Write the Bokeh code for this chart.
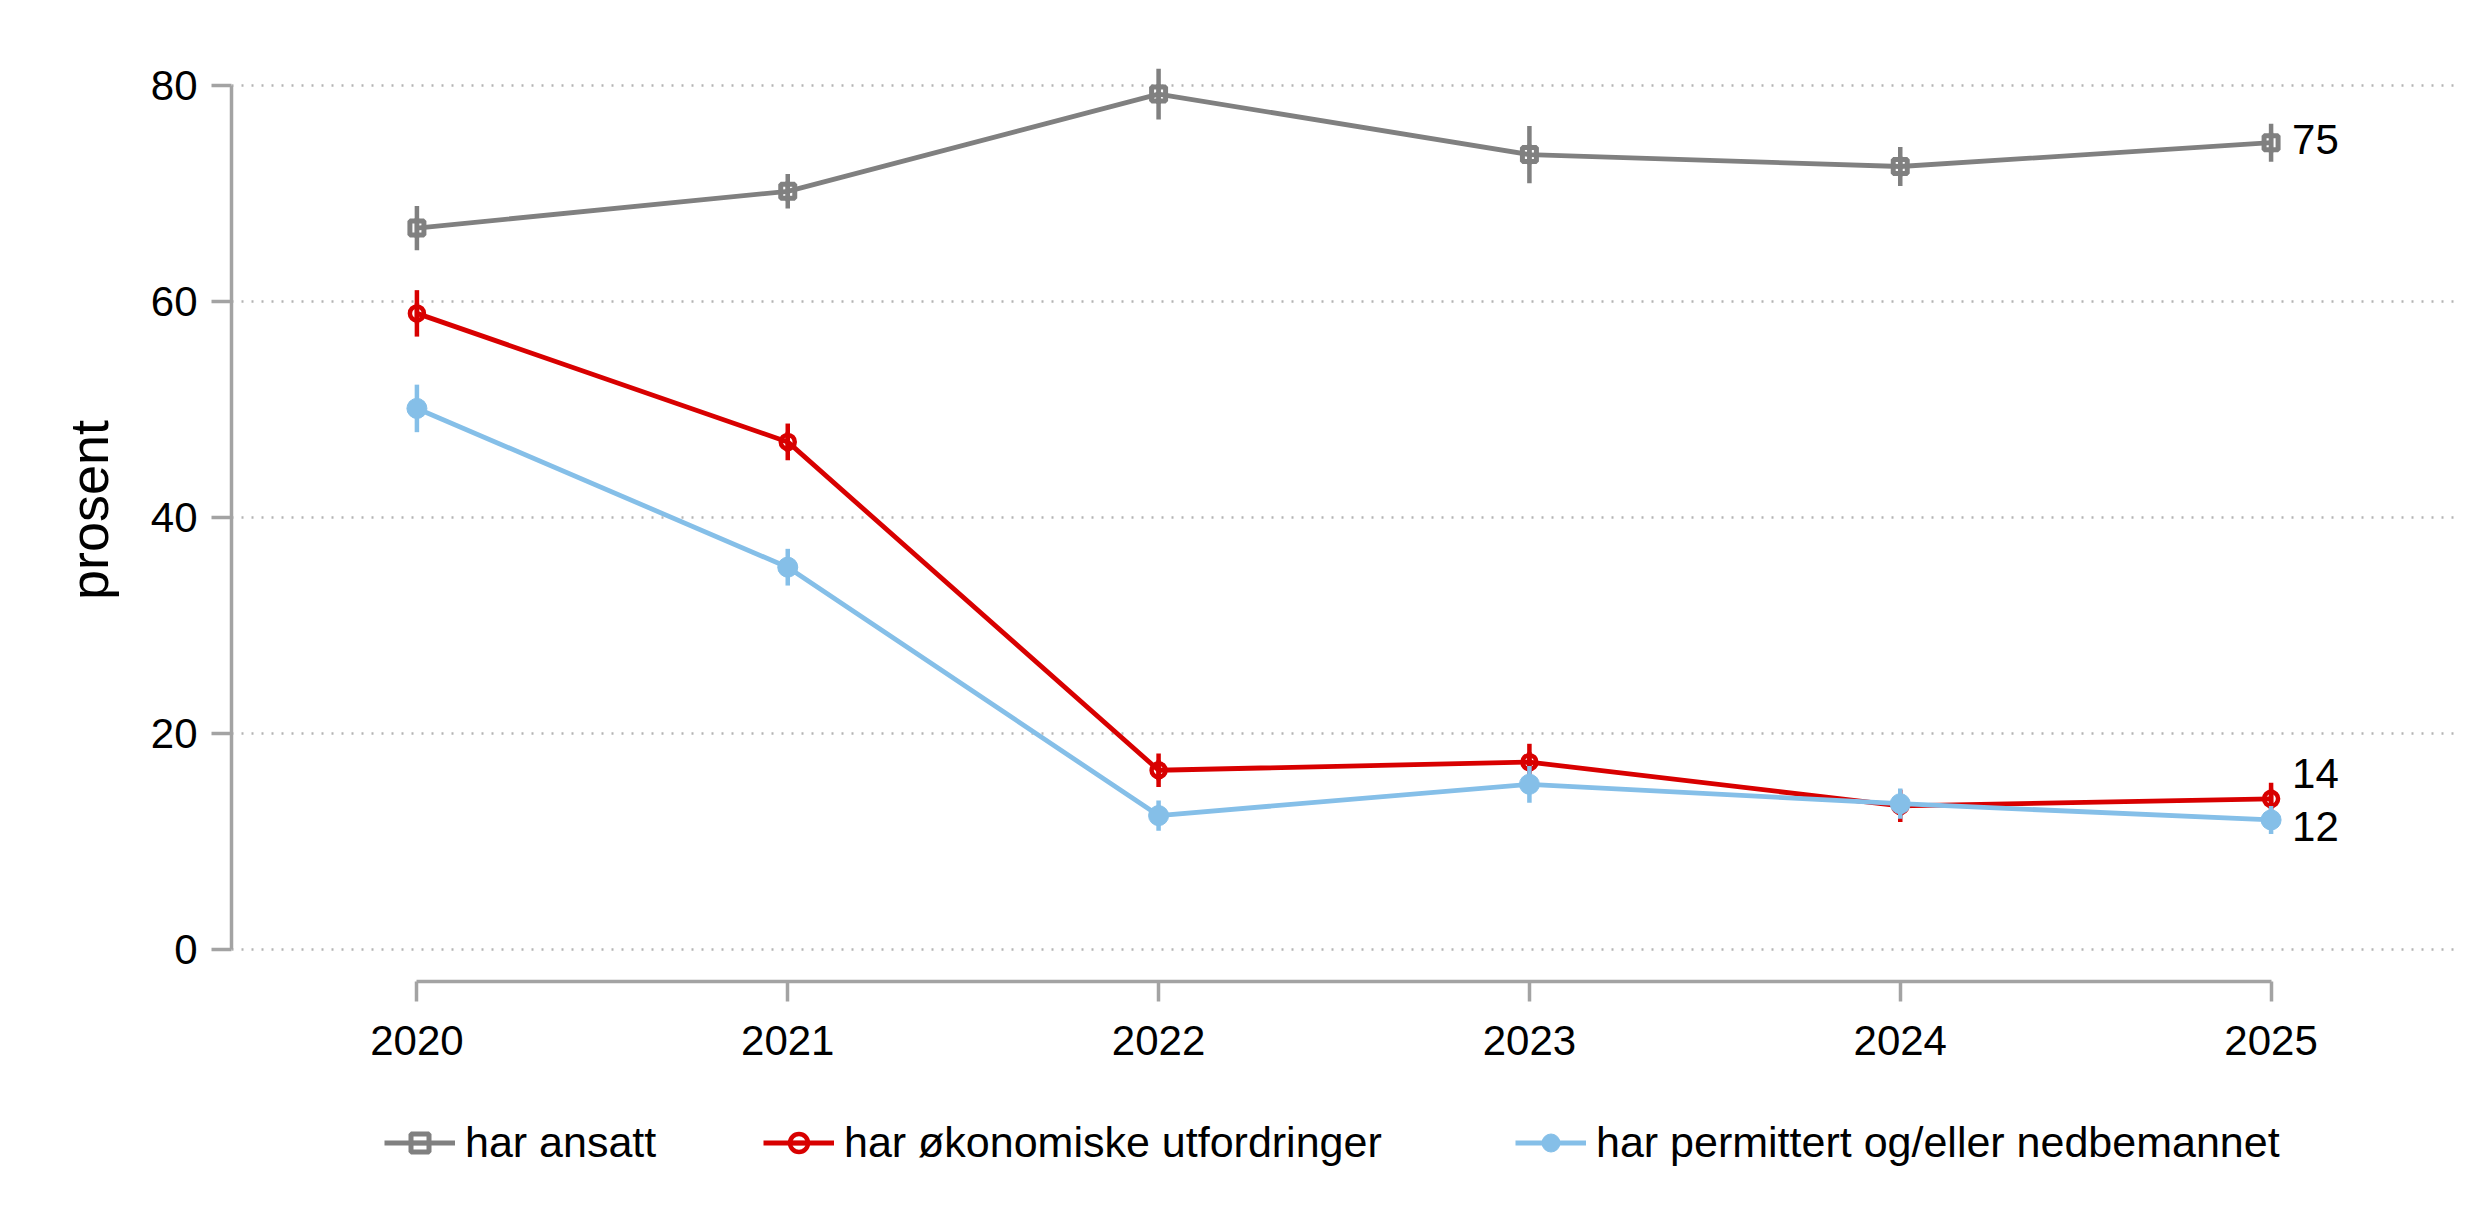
import math
from bokeh.plotting import figure
from bokeh.layouts import column
from bokeh.models import Range1d, FixedTicker, Legend, LegendItem, ColumnDataSource
from bokeh.core.properties import value
from bokeh.embed import file_html
from bokeh.resources import INLINE

years = [2020, 2021, 2022, 2023, 2024, 2025]
y_ticks = [0, 20, 40, 60, 80]

ansatt = [66.8, 70.2, 79.2, 73.6, 72.5, 74.7]
ansatt_err = [2.05, 1.6, 2.35, 2.65, 1.8, 1.75]

okonomi = [58.9, 47.0, 16.6, 17.35, 13.3, 13.95]
okonomi_err = [2.15, 1.7, 1.55, 1.7, 1.5, 1.5]

permitt = [50.1, 35.4, 12.4, 15.3, 13.5, 12.0]
permitt_err = [2.2, 1.7, 1.4, 1.7, 1.4, 1.3]

names = ["har ansatt", "har økonomiske utfordringer", "har permittert og/eller nedbemannet"]
colors = ["#808080", "#d80000", "#85bfe8"]

FONT = "Liberation Sans"
W = 2457
H_MAIN = 1088
H_LEG = 119

p = figure(width=W, height=H_MAIN, output_backend="svg", toolbar_location=None,
           x_range=Range1d(2019.5, 2025.5), y_range=Range1d(-2.96, 84.35),
           min_border_left=231, min_border_right=1, min_border_top=38, min_border_bottom=107)
p.outline_line_color = None
p.background_fill_color = "white"
p.border_fill_color = "white"

for ax in (p.xaxis[0], p.yaxis[0]):
    ax.axis_line_color = "#a3a3a3"
    ax.axis_line_width = 3.5
    ax.major_tick_line_color = "#a3a3a3"
    ax.major_tick_line_width = 3.5
    ax.major_tick_out = 20
    ax.major_tick_in = 0
    ax.minor_tick_line_color = None
    ax.major_label_text_font = FONT
    ax.major_label_text_font_size = "42px"
    ax.major_label_text_color = "black"

p.xaxis[0].major_label_standoff = 24
p.yaxis[0].major_label_standoff = 14
p.xaxis[0].ticker = FixedTicker(ticks=years)
p.xaxis[0].bounds = (years[0], years[-1])
p.yaxis[0].ticker = FixedTicker(ticks=y_ticks)
p.yaxis[0].bounds = (y_ticks[0], y_ticks[-1])
p.yaxis[0].axis_label = "prosent"
p.yaxis[0].axis_label_text_font = FONT
p.yaxis[0].axis_label_text_font_size = "54px"
p.yaxis[0].axis_label_text_font_style = "normal"
p.yaxis[0].axis_label_text_color = "black"
p.yaxis[0].axis_label_standoff = 29

p.xgrid.grid_line_color = None
p.ygrid.ticker = FixedTicker(ticks=y_ticks)
p.ygrid.grid_line_color = "#b4b4b4"
p.ygrid.grid_line_width = 2.5
p.ygrid.grid_line_dash = "2 8"

# legend-only figure (data sources shared, ranges keep marks out of view)
pl = figure(width=W, height=H_LEG, output_backend="svg", toolbar_location=None,
            x_range=Range1d(0, 1), y_range=Range1d(0, 1),
            x_axis_type=None, y_axis_type=None,
            min_border_left=231, min_border_right=1, min_border_top=0, min_border_bottom=0)
pl.outline_line_color = None
pl.xgrid.grid_line_color = None
pl.ygrid.grid_line_color = None
pl.background_fill_color = "white"
pl.border_fill_color = "white"

series = [(ansatt, ansatt_err, "square", False),
          (okonomi, okonomi_err, "circle", False),
          (permitt, permitt_err, "circle", True)]

items = []
for (vals, errs, marker, filled), name, col in zip(series, names, colors):
    src = ColumnDataSource(dict(x=years, y=vals,
                                lo=[v - e for v, e in zip(vals, errs)],
                                hi=[v + e for v, e in zip(vals, errs)]))
    for fig in (p, pl):
        r_line = fig.line("x", "y", source=src, line_color=col, line_width=4.8)
        if fig is p:
            fig.segment(x0="x", y0="lo", x1="x", y1="hi", source=src,
                        line_color=col, line_width=4.5)
        r_bar = fig.scatter("x", "y", source=src, marker="dash", angle=math.pi / 2, size=20,
                            line_color=col, line_width=4.5)
        if filled:
            r_mark = fig.scatter("x", "y", source=src, marker=marker, size=20,
                                 fill_color=col, line_color=col, line_width=1)
        elif marker == "square":
            r_mark = fig.scatter("x", "y", source=src, marker=marker, size=14,
                                 fill_color=None, line_color=col, line_width=5)
        else:
            r_mark = fig.scatter("x", "y", source=src, marker=marker, size=14,
                                 fill_color=None, line_color=col, line_width=4.5)
    items.append(LegendItem(label=name, renderers=[r_line, r_bar, r_mark]))

# end labels
last_vals = [ansatt[-1], okonomi[-1], permitt[-1]]
lab_src = ColumnDataSource(dict(x=[years[-1]] * 3, y=last_vals,
                                t=[f"{v:.0f}" for v in last_vals],
                                dy=[-3, -25, 7]))
p.text("x", "y", text="t", source=lab_src, x_offset=21, y_offset="dy",
       text_align="left", text_baseline="middle", text_font=value(FONT),
       text_font_size="42px", text_color="black")

# one legend per item, placed like the reference's legend columns
leg_x = [153, 532, 1284]
for item, lx in zip(items, leg_x):
    lg = Legend(items=[item], orientation="horizontal", location=(lx, 40))
    lg.border_line_color = None
    lg.background_fill_alpha = 0
    lg.label_text_font = FONT
    lg.label_text_font_size = "43px"
    lg.label_text_color = "black"
    lg.glyph_width = 71
    lg.glyph_height = 45
    lg.label_standoff = 10
    lg.margin = 0
    lg.padding = 10
    pl.add_layout(lg, "center")

layout = column(p, pl, spacing=0)
open("out.html", "w").write(file_html(layout, INLINE))
